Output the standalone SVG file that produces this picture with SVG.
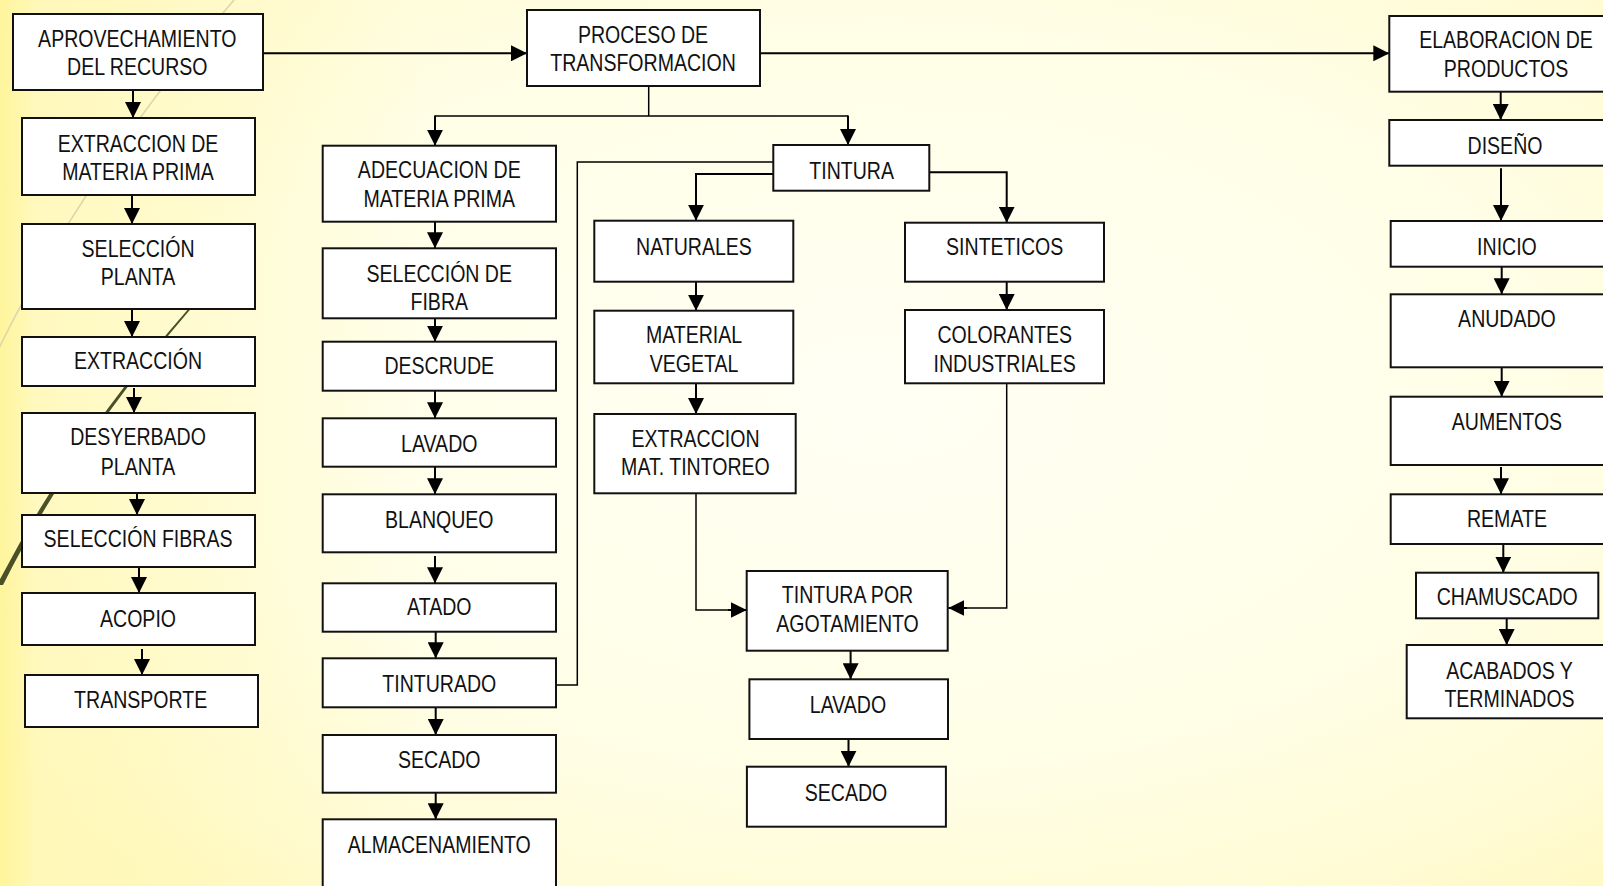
<svg xmlns="http://www.w3.org/2000/svg" width="1603" height="886" viewBox="0 0 1603 886">
<style>
.box{fill:#fff;stroke:#111;stroke-width:2}
.t{font-family:"Liberation Sans",Arial,sans-serif;font-size:23px;fill:#111;text-anchor:middle;transform:scale(0.85,1)}
.c{fill:none;stroke:#000;stroke-width:2}
.thin{fill:none;stroke:#000;stroke-width:1.5}
.a{fill:none;stroke:#000;stroke-width:2;marker-end:url(#ah)}
</style>
<defs>
<marker id="ah" markerUnits="userSpaceOnUse" markerWidth="16" markerHeight="16" refX="16" refY="8" orient="auto">
<path d="M0,0 L16,8 L0,16 Z" fill="#000"/>
</marker>
<radialGradient id="bg" cx="0.55" cy="0.45" r="0.7">
<stop offset="0" stop-color="#FFFFF4"/>
<stop offset="0.6" stop-color="#FFFEE6"/>
<stop offset="0.88" stop-color="#FFFBD4"/>
<stop offset="1" stop-color="#FFF9C6"/>
</radialGradient>
<linearGradient id="lstrip" x1="0" y1="0" x2="1" y2="0">
<stop offset="0" stop-color="#FFF59C" stop-opacity="1"/>
<stop offset="1" stop-color="#FFF59C" stop-opacity="0"/>
</linearGradient>
<linearGradient id="lwash" x1="0" y1="0" x2="1" y2="0">
<stop offset="0" stop-color="#FFF7B0" stop-opacity="0.7"/>
<stop offset="1" stop-color="#FFF7B0" stop-opacity="0"/>
</linearGradient>
</defs>

<g id="background">
<rect x="0" y="0" width="1603" height="886" fill="url(#bg)"/>
<rect x="0" y="0" width="420" height="886" fill="url(#lwash)"/>
<rect x="0" y="0" width="36" height="886" fill="url(#lstrip)"/>
<path d="M234,0 Q85.5,172.5 -1,348" fill="none" stroke="#DCD6AC" stroke-width="1.6"/>
<path d="M190,307 Q69,445 -3,585 L3,585 Q72,447 191.5,308 Z" fill="#4A5129"/>
</g>

<g id="connectors">
<!-- main flow -->
<line class="a" x1="263" y1="53.3" x2="527" y2="53.3"/>
<line class="a" x1="760" y1="53.3" x2="1389.3" y2="53.3"/>
<!-- left column -->
<line class="a" x1="133" y1="90" x2="133" y2="118"/>
<line class="a" x1="132" y1="195" x2="132" y2="224"/>
<line class="a" x1="132" y1="309" x2="132" y2="337"/>
<line class="a" x1="134" y1="388" x2="134" y2="413"/>
<line class="a" x1="137" y1="491" x2="137" y2="515"/>
<line class="a" x1="139" y1="567" x2="139" y2="593"/>
<line class="a" x1="142" y1="649" x2="142" y2="675"/>
<!-- proceso split -->
<polyline class="thin" points="648.7,86 648.7,116"/>
<polyline class="thin" points="435,116 848,116"/>
<line class="a" x1="435" y1="115.5" x2="435" y2="145.7"/>
<line class="a" x1="848" y1="115.5" x2="848" y2="145"/>
<!-- middle column -->
<line class="a" x1="435" y1="221.7" x2="435" y2="248.3"/>
<line class="a" x1="435" y1="315" x2="435" y2="341.7"/>
<line class="a" x1="435" y1="390.7" x2="435" y2="418.3"/>
<line class="a" x1="435" y1="466.7" x2="435" y2="494.3"/>
<line class="a" x1="435" y1="556" x2="435" y2="583.3"/>
<line class="a" x1="435.7" y1="631.7" x2="435.7" y2="658.3"/>
<line class="a" x1="435.7" y1="707.3" x2="435.7" y2="735"/>
<line class="a" x1="435.7" y1="792.7" x2="435.7" y2="819.3"/>
<!-- tinturado loop -->
<polyline class="thin" points="556,685 577.3,685 577.3,162 773.3,162"/>
<!-- tintura branches -->
<polyline class="a" points="773.3,174 696,174 696,220.7"/>
<polyline class="a" points="929.3,172.3 1006.7,172.3 1006.7,222.7"/>
<line class="a" x1="696" y1="281.7" x2="696" y2="310.7"/>
<line class="a" x1="696" y1="383.3" x2="696" y2="414"/>
<line class="a" x1="1006.7" y1="281.7" x2="1006.7" y2="310"/>
<polyline class="thin" points="696,493.3 696,610 733,610"/>
<line class="a" x1="728" y1="610" x2="746.7" y2="610"/>
<polyline class="thin" points="1006.7,383.3 1006.7,608 962,608"/>
<line class="a" x1="967" y1="608" x2="948.3" y2="608"/>
<line class="a" x1="850.6" y1="650.7" x2="850.6" y2="679.3"/>
<line class="a" x1="848.5" y1="739" x2="848.5" y2="766.7"/>
<!-- right column -->
<line class="a" x1="1500.7" y1="91.7" x2="1500.7" y2="120"/>
<line class="a" x1="1501" y1="168.3" x2="1501" y2="221"/>
<line class="a" x1="1501.7" y1="266.7" x2="1501.7" y2="294.3"/>
<line class="a" x1="1501.7" y1="368" x2="1501.7" y2="396.7"/>
<line class="a" x1="1501" y1="467" x2="1501" y2="494.3"/>
<line class="a" x1="1503.3" y1="544" x2="1503.3" y2="572.7"/>
<line class="a" x1="1506.7" y1="618.3" x2="1506.7" y2="645"/>
</g>

<g id="aprovechamiento">
<rect class="box" x="13" y="14" width="250" height="76"/>
<text class="t" x="161.5" y="47">APROVECHAMIENTO</text>
<text class="t" x="161.5" y="75">DEL RECURSO</text>
</g>
<g id="extraccion-materia">
<rect class="box" x="22" y="118" width="233" height="77"/>
<text class="t" x="162.4" y="152">EXTRACCION DE</text>
<text class="t" x="162.4" y="180">MATERIA PRIMA</text>
</g>
<g id="seleccion-planta">
<rect class="box" x="22" y="224" width="233" height="85"/>
<text class="t" x="162.4" y="257">SELECCIÓN</text>
<text class="t" x="162.4" y="285">PLANTA</text>
</g>
<g id="extraccion">
<rect class="box" x="22" y="337" width="233" height="49"/>
<text class="t" x="162.4" y="369">EXTRACCIÓN</text>
</g>
<g id="desyerbado">
<rect class="box" x="22" y="413" width="233" height="80"/>
<text class="t" x="162.4" y="445">DESYERBADO</text>
<text class="t" x="162.4" y="475">PLANTA</text>
</g>
<g id="seleccion-fibras">
<rect class="box" x="22" y="515" width="233" height="52"/>
<text class="t" x="162.4" y="547">SELECCIÓN FIBRAS</text>
</g>
<g id="acopio">
<rect class="box" x="22" y="593" width="233" height="52"/>
<text class="t" x="162.4" y="627">ACOPIO</text>
</g>
<g id="transporte">
<rect class="box" x="25" y="675" width="233" height="52"/>
<text class="t" x="165.5" y="708">TRANSPORTE</text>
</g>

<g id="proceso">
<rect class="box" x="527" y="10" width="233" height="76"/>
<text class="t" x="756.5" y="42.7">PROCESO DE</text>
<text class="t" x="756.5" y="71">TRANSFORMACION</text>
</g>
<g id="adecuacion">
<rect class="box" x="322.7" y="145.7" width="233.3" height="76"/>
<text class="t" x="516.8" y="178.3">ADECUACION DE</text>
<text class="t" x="516.8" y="206.7">MATERIA PRIMA</text>
</g>
<g id="seleccion-fibra">
<rect class="box" x="322.7" y="248.3" width="233.3" height="70"/>
<text class="t" x="516.8" y="281.7">SELECCIÓN DE</text>
<text class="t" x="516.8" y="310">FIBRA</text>
</g>
<g id="descrude">
<rect class="box" x="322.7" y="341.7" width="233.3" height="49"/>
<text class="t" x="516.8" y="374">DESCRUDE</text>
</g>
<g id="lavado">
<rect class="box" x="322.7" y="418.3" width="233.3" height="48.4"/>
<text class="t" x="516.8" y="451.7">LAVADO</text>
</g>
<g id="blanqueo">
<rect class="box" x="322.7" y="494.3" width="233.3" height="58"/>
<text class="t" x="516.8" y="527.7">BLANQUEO</text>
</g>
<g id="atado">
<rect class="box" x="322.7" y="583.3" width="233.3" height="48.4"/>
<text class="t" x="516.8" y="615">ATADO</text>
</g>
<g id="tinturado">
<rect class="box" x="322.7" y="658.3" width="233.3" height="49"/>
<text class="t" x="516.8" y="692.3">TINTURADO</text>
</g>
<g id="secado">
<rect class="box" x="322.7" y="735" width="233.3" height="57.7"/>
<text class="t" x="516.8" y="768.3">SECADO</text>
</g>
<g id="almacenamiento">
<rect class="box" x="322.7" y="819.3" width="233.3" height="80"/>
<text class="t" x="516.8" y="852.7">ALMACENAMIENTO</text>
</g>

<g id="tintura">
<rect class="box" x="773.3" y="145" width="156" height="45.7"/>
<text class="t" x="1002" y="179">TINTURA</text>
</g>
<g id="naturales">
<rect class="box" x="594.3" y="220.7" width="199" height="61"/>
<text class="t" x="816.5" y="255">NATURALES</text>
</g>
<g id="material-vegetal">
<rect class="box" x="594.3" y="310.7" width="199" height="72.6"/>
<text class="t" x="816.5" y="343.3">MATERIAL</text>
<text class="t" x="816.5" y="371.7">VEGETAL</text>
</g>
<g id="extraccion-tintoreo">
<rect class="box" x="594.3" y="414" width="201.4" height="79.3"/>
<text class="t" x="818.2" y="446.7">EXTRACCION</text>
<text class="t" x="818.2" y="475">MAT. TINTOREO</text>
</g>
<g id="sinteticos">
<rect class="box" x="905" y="222.7" width="199" height="59"/>
<text class="t" x="1182" y="255">SINTETICOS</text>
</g>
<g id="colorantes">
<rect class="box" x="905" y="310" width="199" height="73.3"/>
<text class="t" x="1182" y="343.3">COLORANTES</text>
<text class="t" x="1182" y="371.7">INDUSTRIALES</text>
</g>
<g id="tintura-agotamiento">
<rect class="box" x="746.7" y="571" width="201" height="79.7"/>
<text class="t" x="997.1" y="603.3">TINTURA POR</text>
<text class="t" x="997.1" y="631.7">AGOTAMIENTO</text>
</g>
<g id="lavado-2">
<rect class="box" x="749.4" y="679.3" width="198.6" height="59.7"/>
<text class="t" x="997.6" y="712.7">LAVADO</text>
</g>
<g id="secado-2">
<rect class="box" x="746.9" y="766.7" width="199" height="60"/>
<text class="t" x="995.3" y="800.7">SECADO</text>
</g>

<g id="elaboracion">
<rect class="box" x="1389.3" y="16" width="230" height="75.7"/>
<text class="t" x="1771.8" y="48.3">ELABORACION DE</text>
<text class="t" x="1771.8" y="76.7">PRODUCTOS</text>
</g>
<g id="diseno">
<rect class="box" x="1389.3" y="120" width="230" height="45.7"/>
<text class="t" x="1770.6" y="154">DISEÑO</text>
</g>
<g id="inicio">
<rect class="box" x="1390.7" y="221" width="230" height="45.7"/>
<text class="t" x="1772.9" y="255">INICIO</text>
</g>
<g id="anudado">
<rect class="box" x="1390.7" y="294.3" width="230" height="73"/>
<text class="t" x="1772.9" y="326.7">ANUDADO</text>
</g>
<g id="aumentos">
<rect class="box" x="1390.7" y="396.7" width="230" height="68.3"/>
<text class="t" x="1772.9" y="430">AUMENTOS</text>
</g>
<g id="remate">
<rect class="box" x="1390.7" y="494.3" width="230" height="49.7"/>
<text class="t" x="1772.9" y="527.3">REMATE</text>
</g>
<g id="chamuscado">
<rect class="box" x="1416" y="572.7" width="182.3" height="45.6"/>
<text class="t" x="1773.2" y="605">CHAMUSCADO</text>
</g>
<g id="acabados">
<rect class="box" x="1406.7" y="645" width="220" height="73.3"/>
<text class="t" x="1775.9" y="679.3">ACABADOS Y</text>
<text class="t" x="1775.9" y="706.7">TERMINADOS</text>
</g>
</svg>
